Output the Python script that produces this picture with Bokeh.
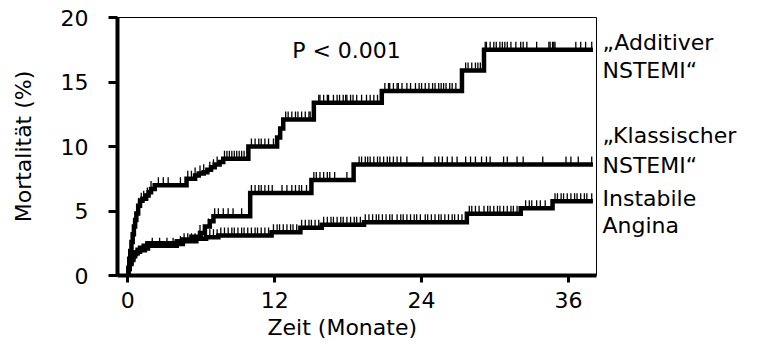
import numpy as np
from bokeh.plotting import figure
from bokeh.layouts import row
from bokeh.models import Range1d, FixedTicker, Label, Title
from bokeh.core.properties import value
from bokeh.embed import file_html
from bokeh.resources import INLINE

# ---------------- data ----------------
x_ticks = [0, 12, 24, 36]
y_ticks = [0, 5, 10, 15, 20]
end_time = 38.0

# "Additiver NSTEMI": event times (months) and cumulative mortality (%)
add_t = [0, 0.05, 0.12, 0.2, 0.3, 0.4, 0.5, 0.6, 0.7, 0.85,
         1.0, 1.2, 1.5, 1.7, 1.9, 2.2,
         4.8, 5.5, 5.8, 6.2, 6.5, 6.8, 7.1, 7.5, 7.8,
         9.85, 12.2, 12.45, 12.7, 15.2, 20.75, 27.3, 29.1]
add_y = [0, 0.6, 1.3, 1.9, 2.6, 3.2, 3.8, 4.3, 4.8, 5.4,
         5.8, 5.95, 6.2, 6.45, 6.7, 7.0,
         7.5, 7.75, 7.9, 8.0, 8.2, 8.4, 8.6, 8.8, 9.05,
         10.0, 10.7, 11.4, 12.1, 13.4, 14.3, 15.9, 17.5]
add_cens = [0.9, 1.1, 1.3, 1.6, 1.9, 2.5, 2.9, 3.3, 4.3, 4.9, 5.2, 5.5, 5.9, 6.2,
            6.7, 7.0, 7.3, 7.9, 8.1, 8.3, 8.5, 8.7, 8.9, 9.1, 9.3, 9.5, 10.1, 10.4,
            10.7, 10.9, 11.2, 11.5, 11.9, 12.9, 13.1, 13.4, 13.7, 13.9, 14.2, 14.5,
            14.8, 14.9, 15.6, 15.7, 16.0, 16.3, 16.4, 16.8, 17.1, 17.3, 17.6, 17.8,
            17.9, 18.2, 18.4, 18.7, 19.1, 19.5, 19.8, 20.1, 20.4, 21.0, 21.3, 21.4,
            21.7, 22.0, 22.1, 22.4, 22.8, 23.1, 23.5, 23.8, 24.0, 24.3, 24.6, 24.9,
            25.1, 25.4, 25.6, 25.8, 26.0, 26.3, 26.5, 26.8, 27.6, 27.8, 28.1, 28.4,
            28.6, 28.8, 29.2, 29.3, 29.6, 29.9, 30.1, 30.4, 30.6, 30.8, 31.0, 31.3,
            31.7, 32.1, 32.3, 32.6, 33.4, 34.4, 34.5, 34.7, 34.8, 34.9, 36.6, 37.0,
            37.4, 37.9]

# "Klassischer NSTEMI"
kla_t = [0, 0.05, 0.15, 0.3, 0.45, 0.6, 0.8, 1.0, 1.3, 1.6, 4.0, 4.5, 5.2, 5.9,
         6.3, 6.7, 7.0, 10.0, 15.0, 18.45]
kla_y = [0, 0.5, 1.0, 1.3, 1.6, 1.8, 2.0, 2.15, 2.3, 2.5, 2.65, 2.8, 3.0, 3.3,
         3.8, 4.2, 4.6, 6.4, 7.4, 8.6]
kla_cens = [5.9, 6.2, 6.6, 7.1, 7.4, 7.8, 8.2, 8.6, 9.3, 10.1, 10.4, 10.7, 10.9,
            11.2, 11.5, 11.8, 12.6, 13.0, 13.4, 13.7, 14.0, 14.2, 14.6, 15.2, 15.4,
            15.7, 16.0, 16.3, 16.5, 16.9, 17.9, 18.9, 19.1, 19.4, 19.6, 19.8, 20.1,
            20.4, 20.6, 20.9, 21.2, 21.4, 21.7, 22.0, 22.3, 22.8, 24.1, 25.1, 25.4,
            25.7, 26.1, 26.5, 26.9, 27.6, 28.0, 28.4, 28.9, 29.3, 29.6, 30.7, 31.0,
            31.8, 32.3, 33.9, 35.8, 36.2, 36.8, 37.9]

# "Instabile Angina"
ang_t = [0, 0.05, 0.15, 0.3, 0.45, 0.6, 0.8, 1.0, 1.4, 1.65, 4.0, 4.5, 5.6, 6.4,
         7.4, 11.75, 14.1, 15.85, 19.3, 27.7, 32.1, 34.7]
ang_y = [0, 0.5, 0.9, 1.2, 1.5, 1.7, 1.85, 1.95, 2.1, 2.3, 2.45, 2.65, 2.85, 2.97,
         3.1, 3.36, 3.7, 3.93, 4.13, 4.78, 5.22, 5.76]
ang_cens = [2.0, 2.6, 3.2, 3.7, 4.3, 4.6, 4.9, 5.2, 5.5, 5.8, 6.1, 6.4, 6.7, 7.0,
            7.3, 7.6, 7.9, 8.2, 8.5, 8.7, 9.0, 9.3, 9.5, 9.8, 10.1, 10.4, 10.6,
            10.9, 11.2, 11.5, 11.9, 12.2, 12.4, 12.7, 13.0, 13.3, 13.5, 13.8, 14.2,
            14.5, 14.8, 15.0, 15.3, 15.6, 16.0, 16.3, 16.6, 16.8, 17.1, 17.4, 17.6,
            17.9, 18.2, 18.5, 18.7, 19.0, 19.4, 19.7, 20.0, 20.3, 20.5, 20.8, 21.1,
            21.4, 21.6, 22.0, 22.3, 22.5, 22.8, 23.1, 23.4, 23.6, 23.9, 24.3, 24.5,
            24.8, 25.1, 25.4, 25.6, 25.9, 26.2, 26.5, 26.7, 27.0, 27.3, 27.9, 28.1,
            28.4, 28.7, 29.1, 29.4, 29.6, 29.9, 30.2, 30.4, 30.7, 31.0, 31.3, 31.5,
            31.8, 32.5, 32.8, 33.0, 33.4, 33.7, 34.1, 34.9, 35.1, 35.4, 35.6, 35.9,
            36.2, 36.5, 36.7, 37.0, 37.3, 37.5, 37.9]

p_text = "P < 0.001"
x_label = "Zeit (Monate)"
y_label = "Mortalität (%)"
series_names = ["„Additiver", "NSTEMI“", "„Klassischer", "NSTEMI“", "Instabile", "Angina"]
name_y = [18.09, 15.9, 10.85, 8.53, 5.95, 3.9]   # baselines, in % units

# ---------------- main figure ----------------
FONT = "DejaVu Sans"
FS = "22px"

p = figure(width=600, height=349, output_backend="svg", toolbar_location=None,
           x_range=Range1d(-0.84, 38.29), y_range=Range1d(0, 20),
           min_border_left=117, min_border_right=4, min_border_top=17,
           min_border_bottom=74)
p.background_fill_color = "white"
p.border_fill_color = "white"
p.outline_line_color = "black"
p.outline_line_width = 1
p.grid.visible = False

for ax in (p.xaxis[0], p.yaxis[0]):
    ax.axis_line_width = 4
    ax.axis_line_color = "black"
    ax.major_tick_line_width = 3
    ax.major_tick_line_color = "black"
    ax.major_tick_in = 0
    ax.minor_tick_line_color = None
    ax.major_label_text_font = FONT
    ax.major_label_text_font_size = FS
    ax.major_label_text_color = "black"

p.xaxis.ticker = FixedTicker(ticks=x_ticks)
p.yaxis.ticker = FixedTicker(ticks=y_ticks)
p.xaxis.major_tick_out = 7
p.xaxis.major_label_standoff = 9
p.yaxis.major_tick_out = 9
p.yaxis.major_label_standoff = 20

p.yaxis.axis_label = y_label
p.yaxis.axis_label_text_font = FONT
p.yaxis.axis_label_text_font_size = FS
p.yaxis.axis_label_text_font_style = "normal"
p.yaxis.axis_label_text_color = "black"
p.yaxis.axis_label_standoff = 22

p.add_layout(Title(text=x_label, align="left", offset=150, text_font=FONT,
                   text_font_size=FS, text_font_style="normal", text_color="black",
                   standoff=4), "below")


def draw_curve(t, y, cens):
    tt = list(t) + [end_time]
    yy = list(y) + [y[-1]]
    p.step(x=tt, y=yy, mode="after", line_width=4.5, line_color="black",
           line_join="miter")
    t_arr = np.array(t)
    y_arr = np.array(y)
    c = np.array(cens)
    idx = np.searchsorted(t_arr, c, side="right") - 1
    lvl = y_arr[idx]
    p.segment(x0=c, y0=lvl, x1=c, y1=lvl + 0.62, line_width=1.3, line_color="black")


draw_curve(add_t, add_y, add_cens)
draw_curve(kla_t, kla_y, kla_cens)
draw_curve(ang_t, ang_y, ang_cens)

p.add_layout(Label(x=13.43, y=17.44, text=p_text, text_font=FONT, text_font_size=FS,
                   text_color="black", text_baseline="alphabetic"))

# ---------------- side panel with the series names ----------------
side = figure(width=171, height=349, output_backend="svg", toolbar_location=None,
              x_range=Range1d(0, 171), y_range=Range1d(0, 20),
              x_axis_location=None, y_axis_location=None,
              min_border_left=0, min_border_right=0, min_border_top=17,
              min_border_bottom=74)
side.outline_line_color = None
side.grid.visible = False
side.background_fill_color = "white"
side.border_fill_color = "white"
side.text(x=[2] * len(series_names), y=name_y, text=series_names,
          text_font=value(FONT), text_font_size=FS, text_color="black",
          text_baseline="alphabetic", text_align="left")

layout = row(p, side, spacing=0)
open("out.html", "w").write(file_html(layout, INLINE))
